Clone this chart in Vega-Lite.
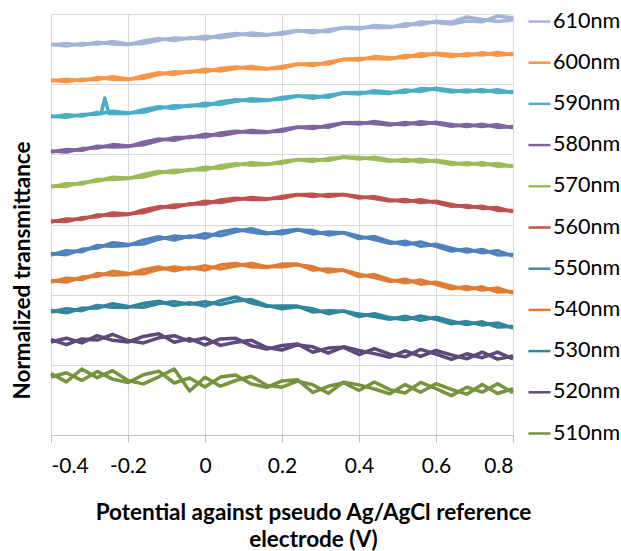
{
"$schema": "https://vega.github.io/schema/vega-lite/v6.json",
"width": 462, "height": 421,
"autosize": {"type": "none"},
"padding": {"left": 51, "top": 14, "right": 108, "bottom": 116},
"background": "white",
"config": {"view": {"stroke": null}, "font": "Lato"},
"data": {"values": [
{"x":-0.4,"c":"a","610nm":390,"600nm":354,"590nm":318,"580nm":283,"570nm":248,"560nm":213,"550nm":180,"540nm":153,"530nm":123,"520nm":93,"510nm":58},
{"x":-0.36,"c":"a","610nm":391.6,"600nm":355.8,"590nm":320.2,"580nm":285.6,"570nm":251.2,"560nm":216,"550nm":184.2,"540nm":156.8,"530nm":126.2,"520nm":96.8,"510nm":62.2},
{"x":-0.32,"c":"a","610nm":389.8,"600nm":354.2,"590nm":319,"580nm":284.8,"570nm":251,"560nm":215.6,"550nm":183.3,"540nm":155.5,"530nm":124.3,"520nm":92.1,"510nm":54.5},
{"x":-0.28,"c":"a","610nm":392.8,"600nm":357.4,"590nm":322.6,"580nm":288.8,"570nm":255.6,"560nm":220,"550nm":189.6,"540nm":161.4,"530nm":129.6,"520nm":99.4,"510nm":63.6},
{"x":-0.27,"c":"a","590nm":321.3},
{"x":-0.26,"c":"a","590nm":337},
{"x":-0.25,"c":"a","590nm":321.6},
{"x":-0.24,"c":"a","610nm":391,"600nm":355.8,"590nm":321.4,"580nm":288,"570nm":255.4,"560nm":219.6,"550nm":188.7,"540nm":160.1,"530nm":127.7,"520nm":94.7,"510nm":55.9},
{"x":-0.2,"c":"a","610nm":390.4,"600nm":355.4,"590nm":321.4,"580nm":288.4,"570nm":256.4,"560nm":220.4,"550nm":189.6,"540nm":160.6,"530nm":127.6,"520nm":93,"510nm":52.4},
{"x":-0.16,"c":"a","610nm":394,"600nm":359.4,"590nm":325.4,"580nm":292.8,"570nm":260.6,"560nm":225,"550nm":194.8,"540nm":165.2,"530nm":131.6,"520nm":98.6,"510nm":60.2},
{"x":-0.12,"c":"a","610nm":396.4,"600nm":362.2,"590nm":328.2,"580nm":296,"570nm":263.6,"560nm":228.4,"550nm":198.2,"540nm":168,"530nm":133.8,"520nm":101.2,"510nm":63.8},
{"x":-0.08,"c":"a","610nm":394.4,"600nm":360.6,"590nm":326.6,"580nm":294.8,"570nm":262.2,"560nm":227.4,"550nm":195,"540nm":164.2,"530nm":129.4,"520nm":92.8,"510nm":52},
{"x":-0.04,"c":"a","610nm":397.2,"600nm":363.8,"590nm":329.8,"580nm":298.4,"570nm":265.6,"560nm":231.2,"550nm":199,"540nm":167.6,"530nm":132.2,"520nm":96.4,"510nm":57},
{"x":0,"c":"a","610nm":396,"600nm":363,"590nm":329,"580nm":298,"570nm":265,"560nm":231,"550nm":197,"540nm":165,"530nm":129,"520nm":90,"510nm":48},
{"x":0.04,"c":"a","610nm":399.8,"600nm":366.6,"590nm":333.2,"580nm":302,"570nm":269.2,"560nm":235,"550nm":203.1,"540nm":169.9,"530nm":134.3,"520nm":96.1,"510nm":57.9},
{"x":0.08,"c":"a","610nm":401.4,"600nm":368,"590nm":335.2,"580nm":303.8,"570nm":271.2,"560nm":236.8,"550nm":205.9,"540nm":171.5,"530nm":138,"520nm":96.7,"510nm":60.1},
{"x":0.12,"c":"a","610nm":399.8,"600nm":366.2,"590nm":334,"580nm":302.4,"570nm":270,"560nm":235.4,"550nm":202.9,"540nm":168.3,"530nm":132.1,"520nm":89.3,"510nm":51.1},
{"x":0.16,"c":"a","610nm":399.8,"600nm":366,"590nm":334.4,"580nm":302.6,"570nm":270.4,"560nm":235.6,"550nm":201.3,"540nm":167.5,"530nm":128.7,"520nm":85.9,"510nm":47.7},
{"x":0.2,"c":"a","610nm":402.6,"600nm":368.6,"590nm":337.6,"580nm":305.6,"570nm":273.6,"560nm":238.6,"550nm":203.9,"540nm":170.9,"530nm":128.9,"520nm":89.5,"510nm":54.1},
{"x":0.24,"c":"a","610nm":404.4,"600nm":371,"590nm":339.2,"580nm":308,"570nm":275.6,"560nm":240.6,"550nm":205.5,"540nm":170.9,"530nm":128.9,"520nm":91.1,"510nm":55.3},
{"x":0.28,"c":"a","610nm":402.2,"600nm":369.4,"590nm":336.8,"580nm":306.4,"570nm":273.6,"560nm":238.6,"550nm":201.1,"540nm":164.9,"530nm":122.9,"520nm":82.7,"510nm":42.5},
{"x":0.32,"c":"a","610nm":405.2,"600nm":373,"590nm":339.8,"580nm":309.8,"570nm":276.4,"560nm":240.6,"550nm":203.1,"540nm":165.9,"530nm":124.3,"520nm":86.9,"510nm":48.7},
{"x":0.36,"c":"a","610nm":407.2,"600nm":375.6,"590nm":342,"580nm":312,"570nm":277.8,"560nm":240.4,"550nm":202.2,"540nm":164.6,"530nm":123.8,"520nm":87.7,"510nm":52.2},
{"x":0.4,"c":"a","610nm":406,"600nm":375,"590nm":341,"580nm":311,"570nm":276,"560nm":237,"550nm":196.5,"540nm":158.5,"530nm":118.5,"520nm":80.5,"510nm":44.5},
{"x":0.44,"c":"a","610nm":409.6,"600nm":378.4,"590nm":344.2,"580nm":313.4,"570nm":277.8,"560nm":238.4,"550nm":198.4,"540nm":160.4,"530nm":121.4,"520nm":86.4,"510nm":53},
{"x":0.48,"c":"a","610nm":408.6,"600nm":377.2,"590nm":342.8,"580nm":311.2,"570nm":275,"560nm":235.2,"550nm":193.4,"540nm":155.4,"530nm":117.4,"520nm":80.8,"510nm":45.4},
{"x":0.52,"c":"a","610nm":408.8,"600nm":377.2,"590nm":342.6,"580nm":310.2,"570nm":273.4,"560nm":233.2,"550nm":190.2,"540nm":152.2,"530nm":115.2,"520nm":78.2,"510nm":42},
{"x":0.56,"c":"a","610nm":413,"600nm":381.2,"590nm":346.4,"580nm":313.2,"570nm":275.8,"560nm":235.2,"550nm":193,"540nm":155,"530nm":119,"520nm":85.6,"510nm":52.6},
{"x":0.6,"c":"a","610nm":412.4,"600nm":380.4,"590nm":345.4,"580nm":311.4,"570nm":273.4,"560nm":232.4,"550nm":188.6,"540nm":150.6,"530nm":115.6,"520nm":81,"510nm":46.4},
{"x":0.64,"c":"a","610nm":411,"600nm":378.6,"590nm":343,"580nm":308.8,"570nm":270.6,"560nm":228.8,"550nm":184,"540nm":146.2,"530nm":111.2,"520nm":75.6,"510nm":39.4},
{"x":0.68,"c":"a","610nm":414,"600nm":381.2,"590nm":345,"580nm":310.6,"570nm":272.2,"560nm":229.6,"550nm":186,"540nm":148.4,"530nm":113.4,"520nm":81.2,"510nm":47.8},
{"x":0.72,"c":"a","610nm":413.2,"600nm":380,"590nm":343.2,"580nm":308.6,"570nm":270,"560nm":226.6,"550nm":182.3,"540nm":144.9,"530nm":109.9,"520nm":77.3,"510nm":42.9},
{"x":0.76,"c":"a","610nm":419,"600nm":382.6,"590nm":345.2,"580nm":310.4,"570nm":271.6,"560nm":227.4,"550nm":184.3,"540nm":147.1,"530nm":112.1,"520nm":82.9,"510nm":51.3},
{"x":0.8,"c":"a","610nm":417,"600nm":380.2,"590nm":342.2,"580nm":307.2,"570nm":268.2,"560nm":223.2,"550nm":178.8,"540nm":141.8,"530nm":106.8,"520nm":76,"510nm":42.2},
{"x":-0.4,"c":"b","610nm":391,"600nm":355,"590nm":319,"580nm":284,"570nm":249,"560nm":214,"550nm":181.5,"540nm":154.5,"530nm":124.5,"520nm":95.5,"510nm":61.5},
{"x":-0.36,"c":"b","610nm":389,"600nm":353.2,"590nm":317.6,"580nm":283,"570nm":248.6,"560nm":213.4,"550nm":180.3,"540nm":152.9,"530nm":122.3,"520nm":90.3,"510nm":53.1},
{"x":-0.32,"c":"b","610nm":391.4,"600nm":355.8,"590nm":320.6,"580nm":286.4,"570nm":252.6,"560nm":217.2,"550nm":185.7,"540nm":157.9,"530nm":126.7,"520nm":96.1,"510nm":66},
{"x":-0.28,"c":"b","610nm":391,"600nm":355.6,"590nm":320.8,"580nm":287,"570nm":253.8,"560nm":218.2,"550nm":186.9,"540nm":158.7,"530nm":126.9,"520nm":94.9,"510nm":57.3},
{"x":-0.24,"c":"b","610nm":393.4,"600nm":358.2,"590nm":323.8,"580nm":290.4,"570nm":257.8,"560nm":222,"550nm":192.3,"540nm":163.7,"530nm":131.3,"520nm":100.7,"510nm":64.3},
{"x":-0.2,"c":"b","610nm":391,"600nm":356,"590nm":322,"580nm":289,"570nm":257,"560nm":221,"550nm":190.5,"540nm":161.5,"530nm":128.5,"520nm":94.5,"510nm":54.5},
{"x":-0.16,"c":"b","610nm":391.4,"600nm":356.8,"590nm":322.8,"580nm":290.2,"570nm":258,"560nm":222.4,"550nm":190.9,"540nm":161.3,"530nm":127.7,"520nm":92.1,"510nm":51.1},
{"x":-0.12,"c":"b","610nm":394.8,"600nm":360.6,"590nm":326.6,"580nm":294.4,"570nm":262,"560nm":226.8,"550nm":195.8,"540nm":165.6,"530nm":131.4,"520nm":97.2,"510nm":58.2},
{"x":-0.08,"c":"b","610nm":397,"600nm":363.2,"590nm":329.2,"580nm":297.4,"570nm":264.8,"560nm":230,"550nm":198.9,"540nm":168.1,"530nm":133.3,"520nm":99.3,"510nm":66},
{"x":-0.04,"c":"b","610nm":396.2,"600nm":362.8,"590nm":328.8,"580nm":297.4,"570nm":264.6,"560nm":230.2,"550nm":197.5,"540nm":166.1,"530nm":130.7,"520nm":93.9,"510nm":44},
{"x":0,"c":"b","610nm":398.8,"600nm":365.8,"590nm":331.8,"580nm":300.8,"570nm":267.8,"560nm":233.8,"550nm":201.2,"540nm":169.2,"530nm":133.2,"520nm":97,"510nm":57.8},
{"x":0.04,"c":"b","610nm":397.2,"600nm":364,"590nm":330.6,"580nm":299.4,"570nm":266.6,"560nm":232.4,"550nm":199.2,"540nm":166,"530nm":130.4,"520nm":89.6,"510nm":48.8},
{"x":0.08,"c":"b","610nm":399.8,"600nm":366.4,"590nm":333.6,"580nm":302.2,"570nm":269.6,"560nm":235.2,"550nm":203.5,"540nm":169.1,"530nm":133.9,"520nm":92.7,"510nm":54.5},
{"x":0.12,"c":"b","610nm":402,"600nm":368.4,"590nm":336.2,"580nm":304.6,"570nm":272.2,"560nm":237.6,"550nm":206.2,"540nm":171.6,"530nm":135.4,"520nm":94.8,"510nm":58.8},
{"x":0.16,"c":"b","610nm":400.4,"600nm":366.6,"590nm":335,"580nm":303.2,"570nm":271,"560nm":236.2,"550nm":202.2,"540nm":168.4,"530nm":129.6,"520nm":87.4,"510nm":49.8},
{"x":0.2,"c":"b","610nm":400.8,"600nm":366.8,"590nm":335.8,"580nm":303.8,"570nm":271.8,"560nm":236.8,"550nm":201.2,"540nm":168.2,"530nm":126.2,"520nm":85,"510nm":47.8},
{"x":0.24,"c":"b","610nm":404,"600nm":370.6,"590nm":338.8,"580nm":307.6,"570nm":275.2,"560nm":240.2,"550nm":204.9,"540nm":170.3,"530nm":128.3,"520nm":90.1,"510nm":53.9},
{"x":0.28,"c":"b","610nm":404.4,"600nm":371.6,"590nm":339,"580nm":308.6,"570nm":275.8,"560nm":240.8,"550nm":204.4,"540nm":168.2,"530nm":126.2,"520nm":88.2,"510nm":50.2},
{"x":0.32,"c":"b","610nm":403.2,"600nm":371,"590nm":337.8,"580nm":307.8,"570nm":274.4,"560nm":238.6,"550nm":200.1,"540nm":162.9,"530nm":121.3,"520nm":81.9,"510nm":41.7},
{"x":0.36,"c":"b","610nm":407.4,"600nm":375.8,"590nm":342.2,"580nm":312.2,"570nm":278,"560nm":240.6,"550nm":202.5,"540nm":164.9,"530nm":124.1,"520nm":88.2,"510nm":52.9},
{"x":0.4,"c":"b","610nm":407.6,"600nm":376.6,"590nm":342.6,"580nm":312.6,"570nm":277.6,"560nm":238.6,"550nm":198.9,"540nm":160.9,"530nm":120.9,"520nm":84.5,"510nm":50.1},
{"x":0.44,"c":"b","610nm":407.6,"600nm":376.4,"590nm":342.2,"580nm":311.4,"570nm":275.8,"560nm":236.4,"550nm":195.4,"540nm":157.4,"530nm":118.4,"520nm":81.4,"510nm":46},
{"x":0.48,"c":"b","610nm":407.4,"600nm":376,"590nm":341.6,"580nm":310,"570nm":273.8,"560nm":234,"550nm":191.6,"540nm":153.6,"530nm":115.6,"520nm":77.8,"510nm":41.2},
{"x":0.52,"c":"b","610nm":411.2,"600nm":379.6,"590nm":345,"580nm":312.6,"570nm":275.8,"560nm":235.6,"550nm":193.8,"540nm":155.8,"530nm":118.8,"520nm":84.2,"510nm":50.4},
{"x":0.56,"c":"b","610nm":410.2,"600nm":378.4,"590nm":343.6,"580nm":310.4,"570nm":273,"560nm":232.4,"550nm":188.8,"540nm":150.8,"530nm":114.8,"520nm":78.6,"510nm":42.8},
{"x":0.6,"c":"b","610nm":413.8,"600nm":381.8,"590nm":346.8,"580nm":312.8,"570nm":274.8,"560nm":233.8,"550nm":190.7,"540nm":152.7,"530nm":117.7,"520nm":84.5,"510nm":51.3},
{"x":0.64,"c":"b","610nm":412.8,"600nm":380.4,"590nm":344.8,"580nm":310.6,"570nm":272.4,"560nm":230.6,"550nm":186.7,"540nm":148.9,"530nm":113.9,"520nm":80.1,"510nm":45.7},
{"x":0.68,"c":"b","610nm":418,"600nm":379.2,"590nm":343,"580nm":308.6,"570nm":270.2,"560nm":227.6,"550nm":183,"540nm":145.4,"530nm":110.4,"520nm":76.2,"510nm":40.8},
{"x":0.72,"c":"b","610nm":415.4,"600nm":382.2,"590nm":345.4,"580nm":310.8,"570nm":272.2,"560nm":228.8,"550nm":185.6,"540nm":148.2,"530nm":113.2,"520nm":82.8,"510nm":50.6},
{"x":0.76,"c":"b","610nm":413.4,"600nm":379.8,"590nm":342.4,"580nm":307.6,"570nm":268.8,"560nm":224.6,"550nm":180.1,"540nm":142.9,"530nm":107.9,"520nm":75.9,"510nm":41.5},
{"x":0.8,"c":"b","610nm":415.2,"600nm":381.4,"590nm":343.4,"580nm":308.4,"570nm":269.4,"560nm":224.4,"550nm":180.6,"540nm":143.6,"530nm":108.6,"520nm":79,"510nm":46.4}
]},
"transform": [
{"fold": ["610nm","600nm","590nm","580nm","570nm","560nm","550nm","540nm","530nm","520nm","510nm"], "as": ["series","v"]},
{"filter": "isValid(datum.v)"}
],
"mark": {"type": "line", "strokeWidth": 3.5, "strokeJoin": "round"},
"encoding": {
"x": {"field": "x", "type": "quantitative",
 "scale": {"domain": [-0.4, 0.8], "nice": false, "zero": false},
 "axis": {"values": [-0.4,-0.2,0,0.2,0.4,0.6,0.8], "labelExpr": "toString(datum.value)",
  "grid": true, "gridColor": "#d9d9d9", "domainColor": "#bfbfbf", "tickColor": "#bfbfbf", "tickSize": 7,
  "labelFontSize": 21, "labelColor": "#000", "labelPadding": 13, "labelFont": "Lato",
  "title": ["Potential against pseudo Ag/AgCl reference", "electrode (V)"],
  "titleFont": "Lato", "titleFontSize": 22.5, "titleFontWeight": "bold", "titleColor": "#000",
  "titleX": 262, "titleY": 84, "titleBaseline": "alphabetic", "titleLineHeight": 27, "titleAlign": "center"}},
"y": {"field": "v", "type": "quantitative",
 "scale": {"domain": [0, 421], "nice": false},
 "axis": {"values": [0,70.17,140.33,210.5,280.67,350.83,421], "grid": true, "gridColor": "#d9d9d9",
  "labels": false, "ticks": false, "domain": false,
  "title": "Normalized transmittance", "titleFont": "Lato", "titleFontSize": 22.5, "titleFontWeight": "bold", "titleColor": "#000",
  "titleX": -29, "titleY": 256, "titleAngle": -90, "titleAlign": "center", "titleBaseline": "middle"}},
"color": {"field": "series", "type": "nominal",
 "scale": {"domain": ["610nm","600nm","590nm","580nm","570nm","560nm","550nm","540nm","530nm","520nm","510nm"],
  "range": ["#A2B5D8","#F79646","#4BACC6","#8064A2","#9BBB59","#C0504D","#4F81BD","#DE7C34","#31859C","#5F497A","#77933C"]},
 "legend": {"orient": "none", "legendX": 476, "legendY": -5, "title": null, "symbolType": "stroke", "symbolSize": 484,
  "symbolStrokeWidth": 2.5, "labelFontSize": 21.5, "labelFont": "Lato", "labelColor": "#000", "rowPadding": 18.2, "labelOffset": 1, "labelLimit": 200}},
"detail": {"field": "c"}
}
}
